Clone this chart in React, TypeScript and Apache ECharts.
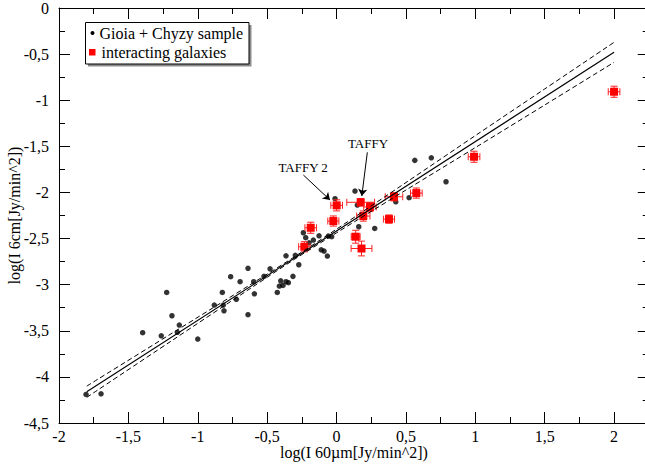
import React, { useEffect, useRef } from "react";
import * as echarts from "echarts";

// Gioia + Chyzy sample (black dots)
const gcX = [-1.805, -1.697, -1.397, -1.263, -1.224, -1.186, -1.133, -1.147, -1.0, -0.881, -0.816, -0.811, -0.823, -0.722, -0.763, -0.695, -0.638, -0.597, -0.592, -0.638, -0.523, -0.479, -0.427, -0.412, -0.402, -0.386, -0.364, -0.347, -0.314, -0.364, -0.297, -0.272, -0.239, -0.222, -0.167, -0.198, -0.126, -0.11, -0.09, -0.066, -0.059, -0.035, -0.011, 0.133, 0.15, 0.16, 0.275, 0.427, 0.523, 0.564, 0.683, 0.789];
const gcY = [-4.19, -4.183, -3.521, -3.554, -3.084, -3.337, -3.438, -3.517, -3.59, -3.221, -3.221, -3.283, -3.084, -3.159, -2.914, -2.968, -2.823, -2.968, -3.099, -3.326, -2.91, -2.828, -3.084, -3.015, -2.958, -3.008, -2.968, -2.979, -2.91, -2.687, -2.682, -2.784, -2.437, -2.491, -2.516, -2.546, -2.47, -2.622, -2.636, -2.69, -2.473, -2.48, -2.068, -1.985, -2.137, -2.372, -2.39, -2.101, -2.057, -1.652, -1.624, -1.884];

// interacting galaxies (red squares with error bars)
const intX = [-0.186, -0.232, -0.023, 0.001, 0.174, 0.241, 0.193, 0.138, 0.18, 0.378, 0.414, 0.575, 0.991, 2.0];
const intY = [-2.383, -2.589, -2.31, -2.14, -2.107, -2.158, -2.256, -2.48, -2.608, -2.289, -2.047, -2.007, -1.613, -0.908];
const intXErr = [0.042, 0.041, 0.04, 0.042, 0.1, 0.045, 0.048, 0.032, 0.075, 0.04, 0.063, 0.042, 0.042, 0.042];
const intYErr = [0.06, 0.055, 0.055, 0.06, 0.04, 0.05, 0.055, 0.07, 0.08, 0.045, 0.045, 0.055, 0.06, 0.06];

// regression line and confidence band
const fitX = [-1.8, 2.0];
const fitY = [-4.162, -0.48];
const bandX = [-1.8, -1.2, -0.6, -0.3, 0, 0.5, 1, 1.5, 2];
const bandUpper = [-4.1, -3.54, -2.98, -2.695, -2.398, -1.893, -1.384, -0.878, -0.372];
const bandLower = [-4.222, -3.62, -3.02, -2.722, -2.438, -1.974, -1.514, -1.052, -0.589];

// annotations
const annotText = ["TAFFY", "TAFFY 2"];
const annotTextX = [0.227, -0.241];
const annotTextY = [-1.464, -1.725];
const arrowFromX = [0.222, -0.239];
const arrowFromY = [-1.565, -1.811];
const arrowToX = [0.182, -0.047];
const arrowToY = [-2.039, -2.082];

const legendNames = ["Gioia + Chyzy sample", "interacting galaxies"];
const xTitle = "log(I 60µm[Jy/min^2])";
const yTitle = "log(I 6cm[Jy/min^2])";

const FONT = '"Liberation Serif", "Times New Roman", serif';

const fmt = (v: number) => {
  if (Math.abs(Math.round(v * 2) - v * 2) > 1e-6) return "";
  return String(Math.round(v * 100) / 100).replace(".", ",");
};

export default function App() {
  const ref = useRef<HTMLDivElement>(null);
  useEffect(() => {
    if (!ref.current) return;
    const chart = echarts.init(ref.current, undefined, { renderer: "svg" });
    const axisBase = {
      axisLine: { show: true, onZero: false, lineStyle: { color: "#000", width: 1 } },
      axisTick: { show: true, inside: true, length: 11, lineStyle: { color: "#000" } },
      minorTick: { show: true, splitNumber: 2, length: 6, lineStyle: { color: "#000" } },
      splitLine: { show: false },
      minorSplitLine: { show: false },
    };
    const xCommon = { type: "value", min: -2, max: 2.25, interval: 0.5, ...axisBase };
    const yCommon = { type: "value", min: -4.5, max: 0, interval: 0.5, ...axisBase };
    const lineSeriesBase = {
      type: "line",
      symbol: "none",
      silent: true,
      z: 5,
    };
    chart.setOption({
      animation: false,
      backgroundColor: "#fff",
      grid: { left: 59, top: 8, width: 589.75, height: 415, containLabel: false, outerBoundsMode: "none" },
      xAxis: [
        {
          ...xCommon,
          position: "bottom",
          axisLabel: { show: true, margin: 5, color: "#000", fontSize: 16, fontFamily: FONT, formatter: fmt },
          name: xTitle,
          nameLocation: "middle",
          nameGap: 21,
          nameMoveOverlap: false,
          nameTextStyle: { color: "#000", fontSize: 16, fontFamily: FONT },
        },
        { ...xCommon, position: "top", axisLabel: { show: false } },
      ],
      yAxis: [
        {
          ...yCommon,
          position: "left",
          axisLabel: { show: true, margin: 10, color: "#000", fontSize: 16, fontFamily: FONT, formatter: fmt },
          name: yTitle,
          nameLocation: "middle",
          nameGap: 37,
          nameMoveOverlap: false,
          nameTextStyle: { color: "#000", fontSize: 16, fontFamily: FONT },
        },
        { ...yCommon, position: "right", axisLabel: { show: false } },
      ],
      series: [
        {
          name: legendNames[0],
          type: "scatter",
          symbol: "circle",
          symbolSize: 5.5,
          itemStyle: { color: "#000" },
          data: gcX.map((x, i) => [x, gcY[i]]),
          z: 2,
        },
        {
          name: legendNames[1],
          type: "custom",
          z: 3,
          data: intX.map((x, i) => [x, intY[i], intXErr[i], intYErr[i]]),
          encode: { x: 0, y: 1 },
          renderItem: (params: any, api: any) => {
            const x = api.value(0);
            const y = api.value(1);
            const ex = api.value(2);
            const ey = api.value(3);
            const c = api.coord([x, y]);
            const l = api.coord([x - ex, y]);
            const r = api.coord([x + ex, y]);
            const t = api.coord([x, y + ey]);
            const b = api.coord([x, y - ey]);
            const cap = 3.5;
            const st = { stroke: "#ff2020", lineWidth: 1, fill: null };
            return {
              type: "group",
              children: [
                { type: "line", shape: { x1: l[0], y1: c[1], x2: r[0], y2: c[1] }, style: st },
                { type: "line", shape: { x1: l[0], y1: c[1] - cap, x2: l[0], y2: c[1] + cap }, style: st },
                { type: "line", shape: { x1: r[0], y1: c[1] - cap, x2: r[0], y2: c[1] + cap }, style: st },
                { type: "line", shape: { x1: c[0], y1: t[1], x2: c[0], y2: b[1] }, style: st },
                { type: "line", shape: { x1: c[0] - cap, y1: t[1], x2: c[0] + cap, y2: t[1] }, style: st },
                { type: "line", shape: { x1: c[0] - cap, y1: b[1], x2: c[0] + cap, y2: b[1] }, style: st },
                { type: "rect", shape: { x: c[0] - 4, y: c[1] - 4, width: 8, height: 8 }, style: { fill: "#ff0000" } },
              ],
            };
          },
        },
        {
          ...lineSeriesBase,
          name: "fit",
          data: fitX.map((x, i) => [x, fitY[i]]),
          lineStyle: { color: "#000", width: 1.2 },
        },
        {
          ...lineSeriesBase,
          name: "upper",
          data: bandX.map((x, i) => [x, bandUpper[i]]),
          smooth: 0.3,
          lineStyle: { color: "#000", width: 1, type: [5, 3] },
        },
        {
          ...lineSeriesBase,
          name: "lower",
          data: bandX.map((x, i) => [x, bandLower[i]]),
          smooth: 0.3,
          lineStyle: { color: "#000", width: 1, type: [5, 3] },
        },
        {
          name: "arrows",
          type: "lines",
          coordinateSystem: "cartesian2d",
          silent: true,
          z: 6,
          symbol: ["none", "arrow"],
          symbolSize: 7,
          lineStyle: { color: "#000", width: 1, opacity: 1 },
          data: arrowFromX.map((x, i) => ({
            coords: [
              [x, arrowFromY[i]],
              [arrowToX[i], arrowToY[i]],
            ],
          })),
        },
        {
          name: "labels",
          type: "scatter",
          silent: true,
          z: 6,
          symbolSize: 1,
          itemStyle: { color: "rgba(0,0,0,0)" },
          label: {
            show: true,
            position: "inside",
            formatter: (p: any) => p.name,
            color: "#000",
            opacity: 1,
            textBorderWidth: 0,
            fontSize: 13,
            fontFamily: FONT,
          },
          data: annotText.map((t, i) => ({ name: t, value: [annotTextX[i], annotTextY[i]] })),
        },
      ],
      graphic: [
        { type: "rect", silent: true, shape: { x: 88, y: 25, width: 163.5, height: 41.5 }, style: { fill: "#8c8c8c" } },
        { type: "rect", silent: true, shape: { x: 85.5, y: 22.5, width: 163.5, height: 41.5 }, style: { fill: "#fff", stroke: "#000", lineWidth: 1 } },
        { type: "circle", silent: true, shape: { cx: 92.5, cy: 33, r: 2 }, style: { fill: "#000" } },
        { type: "rect", silent: true, shape: { x: 89, y: 49, width: 6.5, height: 6.5 }, style: { fill: "#ff0000" } },
        { type: "text", silent: true, x: 99.5, y: 33, style: { text: legendNames[0], font: `16px ${FONT}`, fill: "#000", verticalAlign: "middle" } },
        { type: "text", silent: true, x: 101.5, y: 52.5, style: { text: legendNames[1], font: `16px ${FONT}`, fill: "#000", verticalAlign: "middle" } },
      ],
    });
    return () => chart.dispose();
  }, []);
  return (
    <div
      ref={ref}
      style={{ position: "fixed", left: 0, top: 0, width: 645, height: 466, background: "#fff" }}
    />
  );
}
